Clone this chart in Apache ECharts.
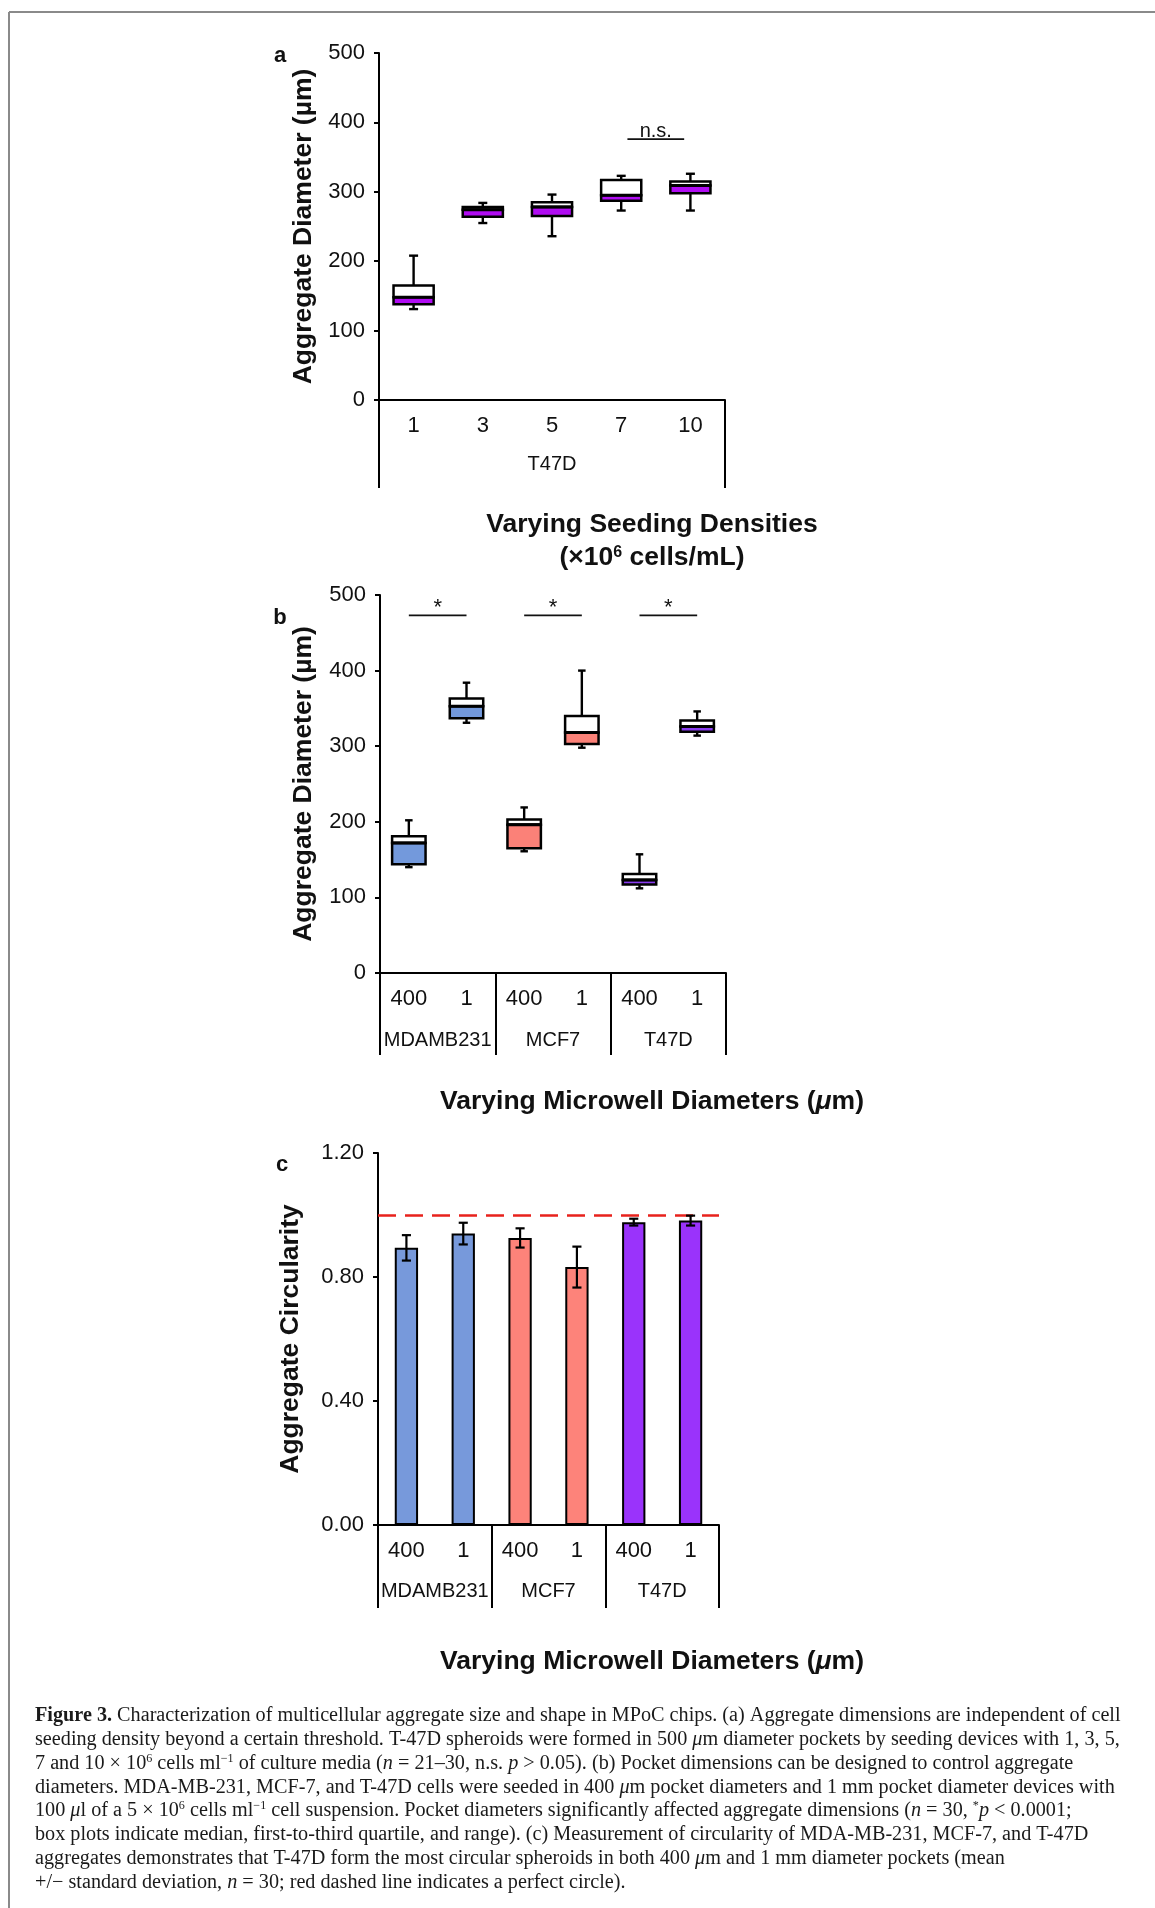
<!DOCTYPE html>
<html><head><meta charset="utf-8">
<script src="https://cdn.jsdelivr.net/npm/echarts@6/dist/echarts.min.js"></script>
<style>html,body{margin:0;padding:0;background:#fff}#c{width:1155px;height:1908px}</style>
</head><body><div id="c"></div>
<script>
const SANS = '"Liberation Sans", Arial, Helvetica, sans-serif';
const SERIF = '"Liberation Serif", "Times New Roman", serif';

// ---------- Panel a : box plots, T47D, varying seeding density ----------
const catsA = ['1', '3', '5', '7', '10'];
const groupA = ['T47D'];
const minA = [131, 255, 236, 273, 273];
const q1A  = [138, 264, 265, 287, 298];
const medA = [148, 274, 278, 295, 309];
const q3A  = [165, 278, 285, 317, 315];
const maxA = [208, 284, 296, 323, 326];
const sigA = [[3, 4, 376, 390]];        // [fromCat, toCat, lineValue, textValue]
const sigTextA = ['n.s.'];

// ---------- Panel b : box plots, varying microwell diameters ----------
const catsB = ['400', '1', '400', '1', '400', '1'];
const groupsB = ['MDAMB231', 'MCF7', 'T47D'];
const groupOfCat = [0, 0, 1, 1, 2, 2];
const minB = [140, 331, 161, 298, 112, 314];
const q1B  = [144, 337, 165, 303, 117, 319];
const medB = [172, 353, 196, 318, 123, 326];
const q3B  = [181, 363, 203, 340, 131, 334];
const maxB = [202, 384, 219, 400, 157, 346];
const sigB = [[0, 1, 473, 490], [2, 3, 473, 490], [4, 5, 473, 490]];
const sigTextB = ['*', '*', '*'];

// ---------- Panel c : circularity bars ----------
const catsC = ['400', '1', '400', '1', '400', '1'];
const groupsC = ['MDAMB231', 'MCF7', 'T47D'];
const meanC = [0.894, 0.940, 0.926, 0.832, 0.977, 0.982];
const sdC   = [0.041, 0.035, 0.031, 0.066, 0.011, 0.016];
const perfectCircle = 1.0;

const colorA = ['#b00cf2'];
const colorsB = ['#7399dc', '#fb8178', '#8a3cef'];
const colorsC = ['#7799db', '#fd837a', '#9a33fb'];

const captionLines = [
  '{b|Figure 3.} Characterization of multicellular aggregate size and shape in MPoC chips. (a) Aggregate dimensions are independent of cell',
  'seeding density beyond a certain threshold. T-47D spheroids were formed in 500 {i|μ}m diameter pockets by seeding devices with 1, 3, 5,',
  '7 and 10 × 10{s|6} cells ml{s|−1} of culture media ({i|n} = 21–30, n.s. {i|p} > 0.05). (b) Pocket dimensions can be designed to control aggregate',
  'diameters. MDA-MB-231, MCF-7, and T-47D cells were seeded in 400 {i|μ}m pocket diameters and 1 mm pocket diameter devices with',
  '100 {i|μ}l of a 5 × 10{s|6} cells ml{s|−1} cell suspension. Pocket diameters significantly affected aggregate dimensions ({i|n} = 30, {s|*}{i|p} < 0.0001;',
  'box plots indicate median, first-to-third quartile, and range). (c) Measurement of circularity of MDA-MB-231, MCF-7, and T-47D',
  'aggregates demonstrates that T-47D form the most circular spheroids in both 400 {i|μ}m and 1 mm diameter pockets (mean',
  '+/− standard deviation, {i|n} = 30; red dashed line indicates a perfect circle).'
];

// ---------- render helpers ----------
function boxItem(colors, boxFrac, capFrac) {
  return function (params, api) {
    const c = api.value(0);
    const pMin = api.coord([c, api.value(1)]);
    const pQ1 = api.coord([c, api.value(2)]);
    const pMed = api.coord([c, api.value(3)]);
    const pQ3 = api.coord([c, api.value(4)]);
    const pMax = api.coord([c, api.value(5)]);
    const band = api.size([1, 0])[0];
    const bw = band * boxFrac, cw = band * capFrac, x = pMed[0];
    const fill = colors[api.value(6)];
    const ls = { stroke: '#000', lineWidth: 2.4 };
    return { type: 'group', children: [
      { type: 'line', shape: { x1: x, y1: pMax[1], x2: x, y2: pQ3[1] }, style: ls },
      { type: 'line', shape: { x1: x, y1: pQ1[1], x2: x, y2: pMin[1] }, style: ls },
      { type: 'line', shape: { x1: x - cw / 2, y1: pMax[1], x2: x + cw / 2, y2: pMax[1] }, style: ls },
      { type: 'line', shape: { x1: x - cw / 2, y1: pMin[1], x2: x + cw / 2, y2: pMin[1] }, style: ls },
      { type: 'rect', shape: { x: x - bw / 2, y: pQ3[1], width: bw, height: pMed[1] - pQ3[1] }, style: { fill: '#fff', stroke: '#000', lineWidth: 2.5 } },
      { type: 'rect', shape: { x: x - bw / 2, y: pMed[1], width: bw, height: pQ1[1] - pMed[1] }, style: { fill: fill, stroke: '#000', lineWidth: 2.5 } },
      { type: 'line', shape: { x1: x - bw / 2, y1: pMed[1], x2: x + bw / 2, y2: pMed[1] }, style: { stroke: '#000', lineWidth: 3 } }
    ]};
  };
}

function errItem(capFrac) {
  return function (params, api) {
    const c = api.value(0), m = api.value(1), s = api.value(2);
    const pHi = api.coord([c, m + s]);
    const pLo = api.coord([c, m - s]);
    const cw = api.size([1, 0])[0] * capFrac, x = pHi[0];
    const ls = { stroke: '#000', lineWidth: 2.2 };
    return { type: 'group', children: [
      { type: 'line', shape: { x1: x, y1: pHi[1], x2: x, y2: pLo[1] }, style: ls },
      { type: 'line', shape: { x1: x - cw / 2, y1: pHi[1], x2: x + cw / 2, y2: pHi[1] }, style: ls },
      { type: 'line', shape: { x1: x - cw / 2, y1: pLo[1], x2: x + cw / 2, y2: pLo[1] }, style: ls }
    ]};
  };
}

function sigItem(texts, shrinkFrac, fontSize, glyphShift) {
  return function (params, api) {
    const a = api.value(0), b = api.value(1);
    const p0 = api.coord([a, api.value(2)]);
    const p1 = api.coord([b, api.value(2)]);
    const pt = api.coord([(a + b) / 2, api.value(3)]);
    const sh = api.size([1, 0])[0] * shrinkFrac;
    return { type: 'group', children: [
      { type: 'line', shape: { x1: p0[0] + sh, y1: p0[1], x2: p1[0] - sh, y2: p1[1] }, style: { stroke: '#111', lineWidth: 1.8 } },
      { type: 'text', x: (p0[0] + p1[0]) / 2, y: pt[1] + glyphShift,
        style: { text: texts[params.dataIndex], fontFamily: SANS, fontSize: fontSize, fill: '#111', align: 'center', verticalAlign: 'middle' } }
    ]};
  };
}

function catAxis(grid, data) {
  return { gridIndex: grid, type: 'category', data: data, position: 'bottom',
    axisLine: { show: true, lineStyle: { color: '#000', width: 2 } },
    axisTick: { show: false },
    axisLabel: { interval: 0, margin: 15, fontFamily: SANS, fontSize: 22, color: '#111' } };
}
function groupAxis(grid, data, tickLen, margin) {
  return { gridIndex: grid, type: 'category', data: data, position: 'bottom',
    axisLine: { show: false },
    axisTick: { show: true, interval: 0, length: tickLen, lineStyle: { color: '#000', width: 2 } },
    axisLabel: { interval: 0, margin: margin, fontFamily: SANS, fontSize: 20, color: '#111' } };
}
function valAxis(grid, max, interval, name, gap, fmt) {
  return { gridIndex: grid, type: 'value', min: 0, max: max, interval: interval,
    axisLine: { show: true, lineStyle: { color: '#000', width: 2 } },
    axisTick: { show: true, length: 5, lineStyle: { color: '#000', width: 2 } },
    splitLine: { show: false },
    axisLabel: { margin: 14, fontFamily: SANS, fontSize: 22, color: '#111', formatter: fmt },
    name: name, nameLocation: 'middle', nameGap: gap,
    nameTextStyle: { fontFamily: SANS, fontWeight: 'bold', fontSize: 26.5, color: '#111' } };
}

const richTitle = {
  it: { fontFamily: SANS, fontWeight: 'bold', fontStyle: 'italic', fontSize: 26.5, fill: '#111' },
  s: { fontFamily: SANS, fontWeight: 'bold', fontSize: 16, fill: '#111', verticalAlign: 'top' }
};
function titleText(text, x, y) {
  return { type: 'text', x: x, y: y, style: { text: text, fontFamily: SANS, fontWeight: 'bold', fontSize: 26.5, fill: '#111',
    align: 'center', verticalAlign: 'middle', rich: richTitle } };
}
function panelLetter(t, x, y) {
  return { type: 'text', x: x, y: y, style: { text: t, fontFamily: SANS, fontWeight: 'bold', fontSize: 22, fill: '#111', align: 'center', verticalAlign: 'middle' } };
}

const capRich = {
  b: { fontFamily: SERIF, fontWeight: 'bold', fontSize: 20, fill: '#1a1a1a', lineHeight: 22 },
  i: { fontFamily: SERIF, fontStyle: 'italic', fontSize: 20, fill: '#1a1a1a', lineHeight: 22 },
  s: { fontFamily: SERIF, fontSize: 12, fill: '#1a1a1a', verticalAlign: 'top', lineHeight: 22 }
};
const captionGraphics = captionLines.map(function (t, i) {
  return { type: 'text', x: 35, y: 1716 + i * 23.8, scaleX: 1.01,
    style: { text: t, fontFamily: SERIF, fontSize: 20, lineHeight: 22, fill: '#1a1a1a', align: 'left', verticalAlign: 'middle', rich: capRich } };
});

const option = {
  backgroundColor: '#fff',
  animation: false,
  grid: [
    { left: 379, top: 53, width: 346, height: 347, outerBoundsMode: 'none' },
    { left: 380, top: 595, width: 346, height: 378, outerBoundsMode: 'none' },
    { left: 378, top: 1153, width: 341, height: 372, outerBoundsMode: 'none' }
  ],
  xAxis: [
    catAxis(0, catsA), groupAxis(0, groupA, 88, 54),
    catAxis(1, catsB), groupAxis(1, groupsB, 82, 57),
    catAxis(2, catsC), groupAxis(2, groupsC, 83, 56)
  ],
  yAxis: [
    valAxis(0, 500, 100, 'Aggregate Diameter (µm)', 62, null),
    valAxis(1, 500, 100, 'Aggregate Diameter (µm)', 63, null),
    valAxis(2, 1.2, 0.4, 'Aggregate Circularity', 74, function (v) { return v.toFixed(2); })
  ],
  series: [
    { type: 'custom', xAxisIndex: 0, yAxisIndex: 0, renderItem: boxItem(colorA, 0.58, 0.13),
      encode: { x: 0, y: [1, 5] },
      data: catsA.map(function (c, i) { return [i, minA[i], q1A[i], medA[i], q3A[i], maxA[i], 0]; }) },
    { type: 'custom', xAxisIndex: 0, yAxisIndex: 0, renderItem: sigItem(sigTextA, 0.09, 20, 2),
      encode: { x: 0, y: 2 }, data: sigA },
    { type: 'custom', xAxisIndex: 2, yAxisIndex: 1, renderItem: boxItem(colorsB, 0.58, 0.13),
      encode: { x: 0, y: [1, 5] },
      data: catsB.map(function (c, i) { return [i, minB[i], q1B[i], medB[i], q3B[i], maxB[i], groupOfCat[i]]; }) },
    { type: 'custom', xAxisIndex: 2, yAxisIndex: 1, renderItem: sigItem(sigTextB, 0, 22, 5),
      encode: { x: 0, y: 2 }, data: sigB },
    { type: 'bar', xAxisIndex: 4, yAxisIndex: 2, barWidth: '41%',
      data: meanC.map(function (v, i) { return { value: v, itemStyle: { color: colorsC[groupOfCat[i]] } }; }),
      itemStyle: { borderColor: '#000', borderWidth: 2 },
      markLine: { silent: true, symbol: 'none', label: { show: false },
        lineStyle: { color: '#e8221c', type: [18, 9], width: 2.5 },
        data: [{ yAxis: perfectCircle }] } },
    { type: 'custom', xAxisIndex: 4, yAxisIndex: 2, renderItem: errItem(0.16), z: 5,
      encode: { x: 0, y: 1 },
      data: meanC.map(function (m, i) { return [i, m, sdC[i]]; }) }
  ],
  graphic: [
    { type: 'line', shape: { x1: 9, y1: 12, x2: 1155, y2: 12 }, style: { stroke: '#8a8a8a', lineWidth: 2 } },
    { type: 'line', shape: { x1: 9, y1: 12, x2: 9, y2: 1908 }, style: { stroke: '#8a8a8a', lineWidth: 2 } },
    panelLetter('a', 280, 56),
    panelLetter('b', 280, 618),
    panelLetter('c', 282, 1165),
    titleText('Varying Seeding Densities', 652, 525),
    titleText('(×10{s|6} cells/mL)', 652, 558),
    titleText('Varying Microwell Diameters ({it|μ}m)', 652, 1102),
    titleText('Varying Microwell Diameters ({it|μ}m)', 652, 1662)
  ].concat(captionGraphics)
};

const chart = echarts.init(document.getElementById('c'), null, { renderer: 'canvas' });
chart.setOption(option);
</script></body></html>
